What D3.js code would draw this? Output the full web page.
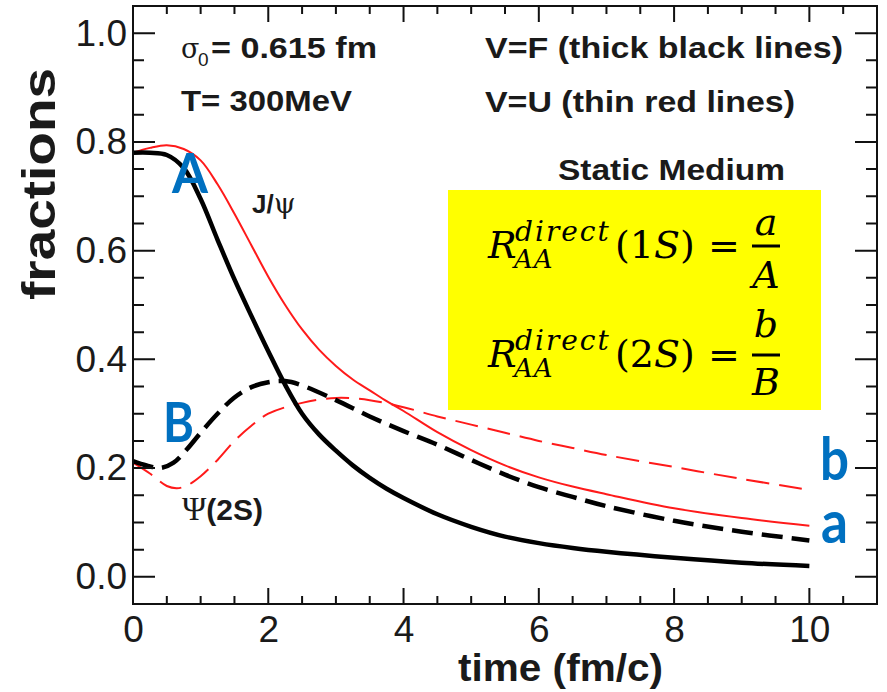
<!DOCTYPE html>
<html>
<head>
<meta charset="utf-8">
<script src="https://cdn.jsdelivr.net/npm/d3@7"></script>
</head>
<body style="margin:0">
<svg id="chart" width="887" height="692"></svg>
<script>
// time (fm/c) and fractions
const jpsiF = [[0, 0.78], [0.25, 0.78], [0.5, 0.776], [0.75, 0.752], [1, 0.695], [1.25, 0.62], [1.5, 0.547],
  [1.75, 0.48], [2, 0.415], [2.25, 0.353], [2.5, 0.30], [2.75, 0.262], [3, 0.232], [3.25, 0.205],
  [3.5, 0.182], [3.75, 0.162], [4, 0.145], [4.5, 0.115], [5, 0.092], [5.5, 0.074], [6, 0.062],
  [6.5, 0.053], [7, 0.046], [8, 0.035], [9, 0.026], [10, 0.02]]
const jpsiU = [[0, 0.78], [0.25, 0.789], [0.5, 0.794], [0.75, 0.787], [1, 0.766], [1.25, 0.722], [1.5, 0.668],
  [1.75, 0.61], [2, 0.552], [2.25, 0.5], [2.5, 0.455], [2.75, 0.418], [3, 0.388], [3.25, 0.363],
  [3.5, 0.343], [3.75, 0.323], [4, 0.305], [4.5, 0.266], [5, 0.233], [5.5, 0.205], [6, 0.183],
  [6.5, 0.166], [7, 0.152], [8, 0.126], [9, 0.108], [10, 0.094]]
const psi2sF = [[0, 0.213], [0.2, 0.205], [0.4, 0.2], [0.6, 0.21], [0.8, 0.235], [1, 0.265], [1.25, 0.3],
  [1.5, 0.33], [1.75, 0.349], [2, 0.358], [2.25, 0.36], [2.5, 0.352], [3, 0.325], [3.5, 0.295], [4, 0.268],
  [4.5, 0.243], [5, 0.215], [5.5, 0.188], [6, 0.165], [6.5, 0.147], [7, 0.13], [8, 0.103], [9, 0.083], [10, 0.067]]
const psi2sU = [[0, 0.21], [0.25, 0.19], [0.5, 0.167], [0.65, 0.163], [0.8, 0.168], [1, 0.185], [1.25, 0.215],
  [1.5, 0.25], [1.75, 0.278], [2, 0.30], [2.5, 0.32], [3, 0.329], [3.5, 0.325], [4, 0.312], [4.5, 0.295],
  [5, 0.28], [5.5, 0.265], [6, 0.25], [6.5, 0.237], [7, 0.224], [8, 0.202], [9, 0.18], [10, 0.16]]

const xTicks = [0, 2, 4, 6, 8, 10]
const xMinor = [0.5, 1, 1.5, 2.5, 3, 3.5, 4.5, 5, 5.5, 6.5, 7, 7.5, 8.5, 9, 9.5, 10.5]
const yTicks = [0, 0.2, 0.4, 0.6, 0.8, 1.0]
const yMinor = [0.05, 0.1, 0.15, 0.25, 0.3, 0.35, 0.45, 0.5, 0.55, 0.65, 0.7, 0.75, 0.85, 0.9, 0.95]

const width = 887
const height = 692
const margin = ({ top: 6, right: 10, bottom: 88, left: 133 })

const x = d3.scaleLinear()
  .domain([0, 11])
  .range([margin.left, width - margin.right])

const y = d3.scaleLinear()
  .domain([-0.05, 1.05])
  .range([height - margin.bottom, margin.top])

const svg = d3.select('#chart')
const ink = '#1a1a1a'
const sans = 'Liberation Sans, Arial, Helvetica, sans-serif'
const plotL = x.range()[0]
const plotR = x.range()[1]
const plotB = y.range()[0]
const plotT = y.range()[1]

// tick labels from the axes
const labelStyle = g => g
  .call(g => g.select('.domain').remove())
  .call(g => g.selectAll('text').attr('font-family', sans).attr('font-size', 37).attr('fill', ink))

svg.append('g')
  .attr('transform', `translate(0,${plotB})`)
  .call(d3.axisBottom(x).tickValues(xTicks).tickSize(0).tickPadding(12).tickFormat(d3.format('d')))
  .call(labelStyle)

svg.append('g')
  .attr('transform', `translate(${plotL},0)`)
  .call(d3.axisLeft(y).tickValues(yTicks).tickSize(0).tickPadding(6).tickFormat(d3.format('.1f')))
  .call(labelStyle)

// axis titles
svg.append('text')
  .attr('transform', 'translate(55,184) rotate(-90)')
  .attr('text-anchor', 'middle')
  .attr('font-family', sans)
  .attr('font-weight', 'bold')
  .attr('font-size', 47)
  .attr('textLength', 232)
  .attr('lengthAdjust', 'spacingAndGlyphs')
  .attr('fill', ink)
  .text('fractions')

svg.append('text')
  .attr('x', 458)
  .attr('y', 681)
  .attr('font-family', sans)
  .attr('font-weight', 'bold')
  .attr('font-size', 39)
  .attr('textLength', 205)
  .attr('lengthAdjust', 'spacingAndGlyphs')
  .attr('fill', ink)
  .text('time (fm/c)')

// curves
const line = d3.line()
  .curve(d3.curveCatmullRom.alpha(0.5))
  .x(d => x(d[0]))
  .y(d => y(d[1]))

const curves = [
  { data: psi2sU, color: '#ff1a1a', width: 2, dash: '23,10' },
  { data: jpsiU, color: '#ff1a1a', width: 2, dash: null },
  { data: psi2sF, color: '#000', width: 4.5, dash: '21,9' },
  { data: jpsiF, color: '#000', width: 4.5, dash: null }
]

svg.append('g')
  .selectAll('path')
  .data(curves)
  .join('path')
  .attr('fill', 'none')
  .attr('stroke', d => d.color)
  .attr('stroke-width', d => d.width)
  .attr('stroke-dasharray', d => d.dash)
  .attr('stroke-linejoin', 'round')
  .attr('d', d => line(d.data))

// annotations
const label = (tx, ty, str, size, len) => {
  const t = svg.append('text')
    .attr('x', tx)
    .attr('y', ty)
    .attr('font-family', sans)
    .attr('font-weight', 'bold')
    .attr('font-size', size)
    .attr('fill', ink)
    .text(str)
  if (len) t.attr('textLength', len).attr('lengthAdjust', 'spacingAndGlyphs')
  return t
}

const sig = svg.append('text')
  .attr('x', 181).attr('y', 58)
  .attr('font-family', 'DejaVu Serif, serif')
  .attr('font-size', 27)
  .attr('fill', ink)
sig.append('tspan').text('σ')
sig.append('tspan')
  .attr('x', 198).attr('dy', 8)
  .attr('font-family', sans)
  .attr('font-size', 19)
  .text('0')
label(211, 58, '= 0.615 fm', 30, 166)
label(181, 111, 'T= 300MeV', 30, 171)
label(485, 58, 'V=F (thick black lines)', 30, 358)
label(485, 112, 'V=U (thin red lines)', 30, 310)
label(558, 180, 'Static Medium', 30, 227)

const jl = svg.append('text')
  .attr('x', 252).attr('y', 213)
  .attr('font-family', sans)
  .attr('font-weight', 'bold')
  .attr('font-size', 26)
  .attr('fill', ink)
jl.append('tspan').text('J/')
jl.append('tspan').attr('font-family', 'DejaVu Serif, serif').attr('font-weight', 'normal').attr('font-size', 28).text('ψ')

const pl = svg.append('text')
  .attr('x', 182).attr('y', 520)
  .attr('font-family', sans)
  .attr('font-weight', 'bold')
  .attr('font-size', 30)
  .attr('fill', ink)
pl.append('tspan').attr('font-family', 'Liberation Serif, serif').attr('font-weight', 'normal').attr('font-size', 33).text('Ψ')
pl.append('tspan').text('(2S)')

// yellow formula box
svg.append('rect')
  .attr('x', 448).attr('y', 190)
  .attr('width', 373).attr('height', 220)
  .attr('fill', '#ffff00')

const serif = 'DejaVu Serif, serif'
const rows = [
  { state: '1', num: 'a', den: 'A', base: 258, bar: 246, numBase: 235, denBase: 288 },
  { state: '2', num: 'b', den: 'B', base: 367, bar: 355, numBase: 337, denBase: 395 }
]
rows.forEach(r => {
  const t = svg.append('text')
    .attr('x', 488).attr('y', r.base)
    .attr('font-family', serif)
    .attr('font-size', 38)
    .attr('fill', '#000')
  t.append('tspan').attr('font-style', 'italic').text('R')
  t.append('tspan')
    .attr('x', 515).attr('dy', -17)
    .attr('font-style', 'italic').attr('font-size', 28).attr('letter-spacing', 2)
    .text('direct')
  t.append('tspan')
    .attr('x', 514).attr('dy', 27)
    .attr('font-style', 'italic').attr('font-size', 26).attr('letter-spacing', 1)
    .text('AA')
  t.append('tspan').attr('x', 615).attr('dy', -10).text('(' + r.state)
  t.append('tspan').attr('font-style', 'italic').text('S')
  t.append('tspan').text(')')
  t.append('tspan').attr('x', 708).attr('dy', 1).text('=')
  svg.append('line')
    .attr('x1', 752).attr('x2', 780)
    .attr('y1', r.bar).attr('y2', r.bar)
    .attr('stroke', '#000').attr('stroke-width', 3)
  const f = svg.append('text')
    .attr('x', 766).attr('y', r.numBase)
    .attr('text-anchor', 'middle')
    .attr('font-family', serif)
    .attr('font-style', 'italic')
    .attr('font-size', 38)
    .attr('fill', '#000')
  f.append('tspan').text(r.num)
  f.append('tspan').attr('x', 766).attr('dy', r.denBase - r.numBase).text(r.den)
})

// blue markers
const blue = '#0070c0'
const marks = [
  { t: 'A', x: 172, y: 193, size: 55, len: 36 },
  { t: 'B', x: 163, y: 442, size: 55, len: 31 },
  { t: 'b', x: 820, y: 480, size: 60, len: 29 },
  { t: 'a', x: 821, y: 543, size: 60, len: 27 }
]
svg.append('g')
  .selectAll('text')
  .data(marks)
  .join('text')
  .attr('x', d => d.x)
  .attr('y', d => d.y)
  .attr('font-family', 'Lato, Open Sans, sans-serif')
  .attr('font-weight', 'bold')
  .attr('font-size', d => d.size)
  .attr('textLength', d => d.len)
  .attr('lengthAdjust', 'spacingAndGlyphs')
  .attr('fill', blue)
  .text(d => d.t)

// inward tick marks on all four sides, one path per set, then the frame
const tickPath = (vals, pos, seg) => svg.append('path')
  .attr('fill', 'none')
  .attr('stroke', '#111')
  .attr('stroke-width', 2)
  .attr('d', vals.map(v => seg(pos(v))).join(' '))

tickPath(xMinor, x, p => `M${p},${plotB} L${p},${plotB - 8}`)
tickPath(xTicks, x, p => `M${p},${plotB} L${p},${plotB - 16}`)
tickPath(xMinor, x, p => `M${p},${plotT} L${p},${plotT + 8}`)
tickPath(xTicks, x, p => `M${p},${plotT} L${p},${plotT + 16}`)
tickPath(yMinor, y, p => `M${plotL},${p} L${plotL + 11},${p}`)
tickPath(yTicks, y, p => `M${plotL},${p} L${plotL + 22},${p}`)
tickPath(yMinor, y, p => `M${plotR},${p} L${plotR - 11},${p}`)
tickPath(yTicks, y, p => `M${plotR},${p} L${plotR - 22},${p}`)

svg.append('rect')
  .attr('x', plotL)
  .attr('y', plotT)
  .attr('width', plotR - plotL)
  .attr('height', plotB - plotT)
  .attr('fill', 'none')
  .attr('stroke', '#111')
  .attr('stroke-width', 2)
</script>
</body>
</html>
